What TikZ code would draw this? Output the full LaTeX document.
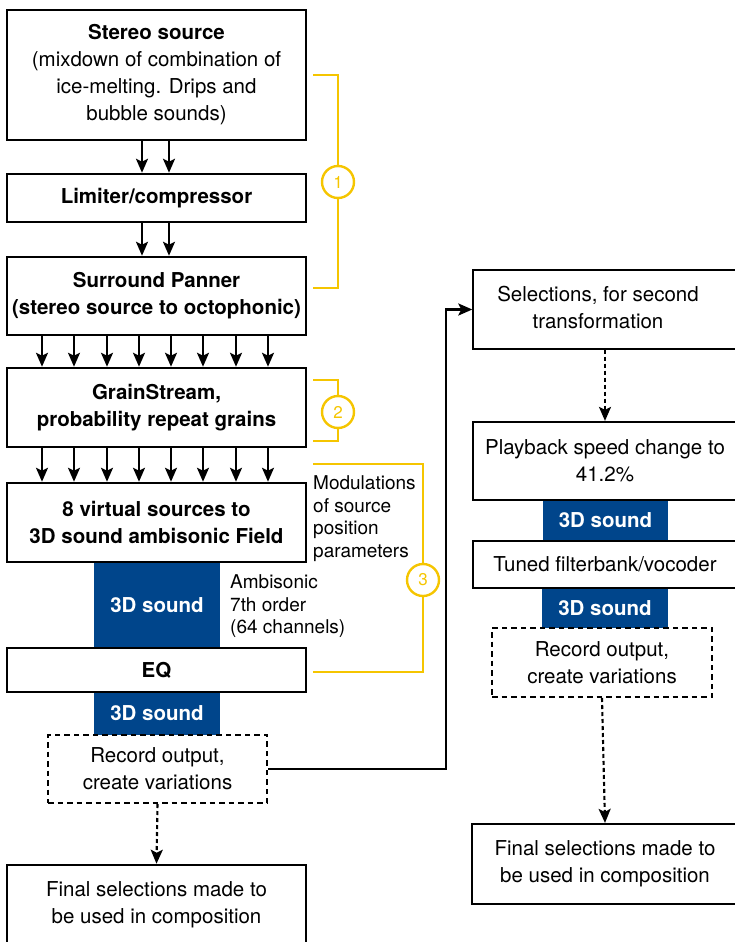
\documentclass[tikz,border=0pt]{standalone}
\usepackage{fontspec}
\setmainfont{TeX Gyre Heros}
\usetikzlibrary{arrows.meta,calc}
\definecolor{yel}{RGB}{245,197,0}
\definecolor{navy}{RGB}{0,69,139}
\begin{document}
\begin{tikzpicture}[x=1pt,y=-1pt,
  every node/.style={font=\fontsize{20.5}{27}\selectfont, align=center, inner sep=0pt},
  box/.style={draw, line width=2.5pt, minimum width=299pt},
  rbox/.style={draw, line width=2.2pt, minimum width=264pt},
  blk/.style={fill=navy, text=white, font=\fontsize{20.5}{27}\selectfont\bfseries},
  dbox/.style={draw, line width=2pt, dash pattern=on 5.5pt off 4pt},
  side/.style={font=\fontsize{19}{22.5}\selectfont, align=left, anchor=west},
  num/.style={draw=yel, text=yel, line width=2.4pt, circle, minimum size=32pt, font=\fontsize{17}{20}\selectfont},
  yb/.style={draw=yel, line width=2.4pt},
  arr/.style={line width=2.3pt, -{Stealth[length=14pt,width=12pt,inset=3pt]}},
  darr/.style={line width=2.1pt, dash pattern=on 4pt off 3pt, -{Stealth[length=14pt,width=12pt,inset=3pt]}}
]
\useasboundingbox (0,0) rectangle (735,942);
% blue bars (drawn first, below the box borders)
\node[blk, minimum width=126pt, minimum height=86pt] (s1) at (157,605) {3D sound};
\node[blk, minimum width=126pt, minimum height=43pt] (s2) at (157,713.5) {3D sound};
\node[blk, minimum width=125pt, minimum height=41pt] (s3) at (605.5,520.5) {3D sound};
\node[blk, minimum width=126pt, minimum height=40pt] (s4) at (605,608) {3D sound};
% left column
\node[box, minimum height=130pt] (b1) at (156.5,75) {\textbf{Stereo source}\\(mixdown of combination of\\ice-melting. Drips and\\bubble sounds)};
\node[box, minimum height=48pt] (b2) at (156.5,198) {\textbf{Limiter/compressor}};
\node[box, minimum height=78pt] (b3) at (156.5,296) {\textbf{Surround Panner}\\\textbf{(stereo source to octophonic)}};
\node[box, minimum height=79pt] (b4) at (156.5,407.5) {\textbf{GrainStream,}\\\textbf{probability repeat grains}};
\node[box, minimum height=79pt] (b5) at (156.5,522.5) {\textbf{8 virtual sources to}\\\textbf{3D sound ambisonic Field}};
\node[box, minimum height=44pt] (eq) at (156.5,670) {\textbf{EQ}};
\node[dbox, minimum width=219pt, minimum height=68pt] (d1) at (157.5,769) {Record output,\\create variations};
\node[box, minimum height=79pt] (f1) at (156.5,904.5) {Final selections made to\\be used in composition};
% side texts
\node[side] (mod) at (313,518.5) {Modulations\\of source\\position\\parameters};
\node[side] (amb) at (230,606.5) {Ambisonic\\7th order\\(64 channels)};
% right column
\node[rbox, line width=1.4pt, minimum height=79pt] (sel) at (605,309.5) {\hbox{\begin{tabular}{@{}c@{}}Selections, for second\\transformation\end{tabular}\hspace{14pt}}};
\node[rbox, minimum height=78pt] (pb) at (605,461) {Playback speed change to\\41.2\%};
\node[rbox, minimum height=47pt] (tf) at (605,564.5) {Tuned filterbank/vocoder};
\node[dbox, minimum width=220pt, minimum height=69pt] (d2) at (602,662.5) {Record output,\\create variations};
\node[rbox, minimum width=266pt, minimum height=80pt] (f2) at (605,864) {Final selections made to\\be used in composition};
% arrows
\foreach \x in {142,169} {
  \draw[arr] (b1.south -| \x,0) -- (b2.north -| \x,0);
  \draw[arr] (b2.south -| \x,0) -- (b3.north -| \x,0);
}
\foreach \x in {42,74,107,139,171,203,236,268} {
  \draw[arr] (b3.south -| \x,0) -- (b4.north -| \x,0);
  \draw[arr] (b4.south -| \x,0) -- (b5.north -| \x,0);
}
\draw[darr] (d1.south) -- (f1.north);
\draw[darr] (sel.south) -- (pb.north);
\draw[darr] (d2.south) -- (f2.north);
\draw[arr] (d1.east) -- ++(178,0) |- (sel.west);
% yellow brackets
\node[num] (c1) at (338,182) {1};
\node[num] (c2) at (338,412) {2};
\node[num] (c3) at (423,580) {3};
\draw[yb] (313,75) -- (c1.north |- 0,75) -- (c1.north);
\draw[yb] (c1.south) -- (c1.south |- 0,288) -- (313,288);
\draw[yb] (313,380) -- (c2.north |- 0,380) -- (c2.north);
\draw[yb] (c2.south) -- (c2.south |- 0,441) -- (313,441);
\draw[yb] (313,464) -- (c3.north |- 0,464) -- (c3.north);
\draw[yb] (c3.south) -- (c3.south |- 0,672) -- (313,672);
\end{tikzpicture}
\end{document}
